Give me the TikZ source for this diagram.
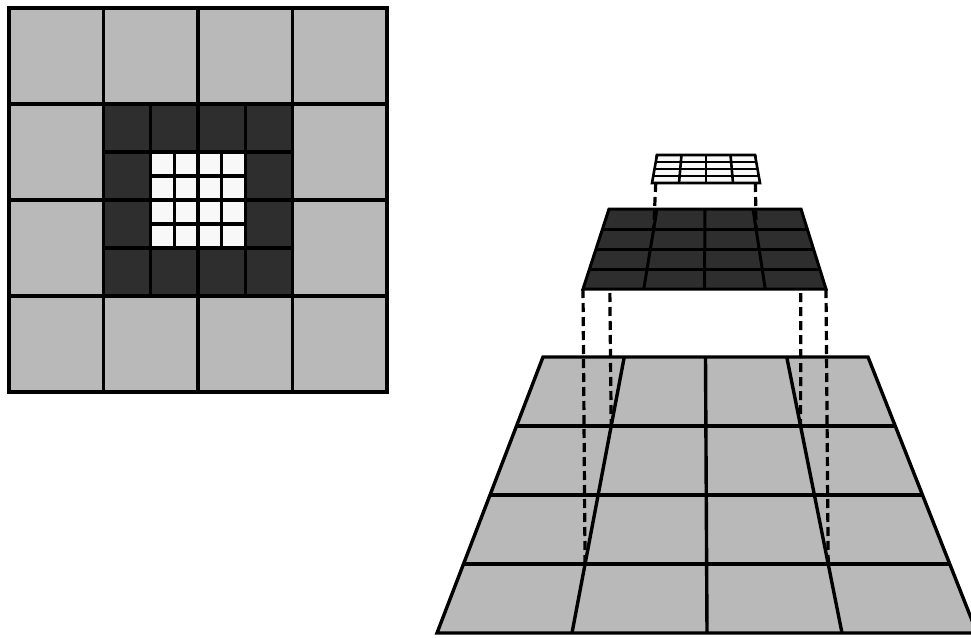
\documentclass[tikz,border=0pt]{standalone}
\usetikzlibrary{calc}
\definecolor{lgray}{RGB}{185,185,185}
\definecolor{dgray}{RGB}{46,46,46}
\definecolor{wcell}{RGB}{248,248,248}
\begin{document}
\begin{tikzpicture}[x=1pt,y=-1pt,
  mainline/.style={line width=3.4pt, line join=miter},
  darkline/.style={line width=3pt, line join=miter},
  smallline/.style={line width=2.6pt, line join=miter},
  dashline/.style={line width=3.2pt, dash pattern=on 9pt off 5pt}]
\useasboundingbox (0,0) rectangle (971,637);

% ---------------- left grid ----------------
\fill[lgray] (9,8) rectangle (387,392);
\fill[dgray] (103.5,104) rectangle (292.5,296);
\fill[wcell] (150.75,152) rectangle (245.25,248);
\foreach \k in {1,2,3} {
  \draw[mainline] (150.75+\k*23.625,152) -- (150.75+\k*23.625,248);
  \draw[mainline] (150.75,152+\k*24) -- (245.25,152+\k*24);
  \draw[mainline] (103.5+\k*47.25,104) -- (103.5+\k*47.25,296);
  \draw[mainline] (103.5,104+\k*48) -- (292.5,104+\k*48);
  \draw[mainline] (9+\k*94.5,8) -- (9+\k*94.5,392);
  \draw[mainline] (9,8+\k*96) -- (387,8+\k*96);
}
\draw[mainline] (9,8) rectangle (387,392);

% ---------------- corners ----------------
\coordinate (TTL) at (543,357);
\coordinate (TTR) at (868,357);
\coordinate (TBL) at (437,633);
\coordinate (TBR) at (977,633);
\coordinate (DTL) at (609,209);
\coordinate (DTR) at (801,209);
\coordinate (DBL) at (583,289);
\coordinate (DBR) at (826,289);
\coordinate (STL) at (657,155);
\coordinate (STR) at (755,155);
\coordinate (SBL) at (652,183);
\coordinate (SBR) at (760,183);

% grid points of the big trapezoid
\coordinate (Ta1) at ($(TTL)!0.25!(TTR)$);
\coordinate (Ta3) at ($(TTL)!0.75!(TTR)$);
\coordinate (Tb1) at ($(TBL)!0.25!(TBR)$);
\coordinate (Tb3) at ($(TBL)!0.75!(TBR)$);
\coordinate (T11) at ($(Ta1)!0.25!(Tb1)$);
\coordinate (T13) at ($(Ta1)!0.75!(Tb1)$);
\coordinate (T31) at ($(Ta3)!0.25!(Tb3)$);
\coordinate (T33) at ($(Ta3)!0.75!(Tb3)$);
% grid points of the dark trapezoid
\coordinate (Da1) at ($(DTL)!0.25!(DTR)$);
\coordinate (Da3) at ($(DTL)!0.75!(DTR)$);
\coordinate (Db1) at ($(DBL)!0.25!(DBR)$);
\coordinate (Db3) at ($(DBL)!0.75!(DBR)$);
\coordinate (D11) at ($(Da1)!0.25!(Db1)$);
\coordinate (D31) at ($(Da3)!0.25!(Db3)$);

% ---------------- big light trapezoid ----------------
\fill[lgray] (TTL) -- (TTR) -- (TBR) -- (TBL) -- cycle;
\foreach \f in {0.25,0.5,0.75} {
  \draw[mainline] ($(TTL)!\f!(TTR)$) -- ($(TBL)!\f!(TBR)$);
  \draw[mainline] ($(TTL)!\f!(TBL)$) -- ($(TTR)!\f!(TBR)$);
}
\draw[mainline] (TTL) -- (TTR) -- (TBR) -- (TBL) -- cycle;

% dashes dark -> big
\draw[dashline] (DTL) -- (T11);
\draw[dashline] (DTR) -- (T31);
\draw[dashline] (DBL) -- (T13);
\draw[dashline] (DBR) -- (T33);

% ---------------- dark trapezoid ----------------
\fill[dgray] (DTL) -- (DTR) -- (DBR) -- (DBL) -- cycle;
\foreach \f in {0.25,0.5,0.75} {
  \draw[darkline] ($(DTL)!\f!(DTR)$) -- ($(DBL)!\f!(DBR)$);
  \draw[darkline] ($(DTL)!\f!(DBL)$) -- ($(DTR)!\f!(DBR)$);
}
\draw[darkline] (DTL) -- (DTR) -- (DBR) -- (DBL) -- cycle;

% dashes small -> dark
\draw[dashline] (STL) -- (D11);
\draw[dashline] (STR) -- (D31);

% ---------------- small top grid ----------------
\fill[wcell] (STL) -- (STR) -- (SBR) -- (SBL) -- cycle;
\foreach \f in {0.25,0.5,0.75} {
  \draw[smallline] ($(STL)!\f!(STR)$) -- ($(SBL)!\f!(SBR)$);
  \draw[smallline] ($(STL)!\f!(SBL)$) -- ($(STR)!\f!(SBR)$);
}
\draw[smallline] (STL) -- (STR) -- (SBR) -- (SBL) -- cycle;
\end{tikzpicture}
\end{document}
